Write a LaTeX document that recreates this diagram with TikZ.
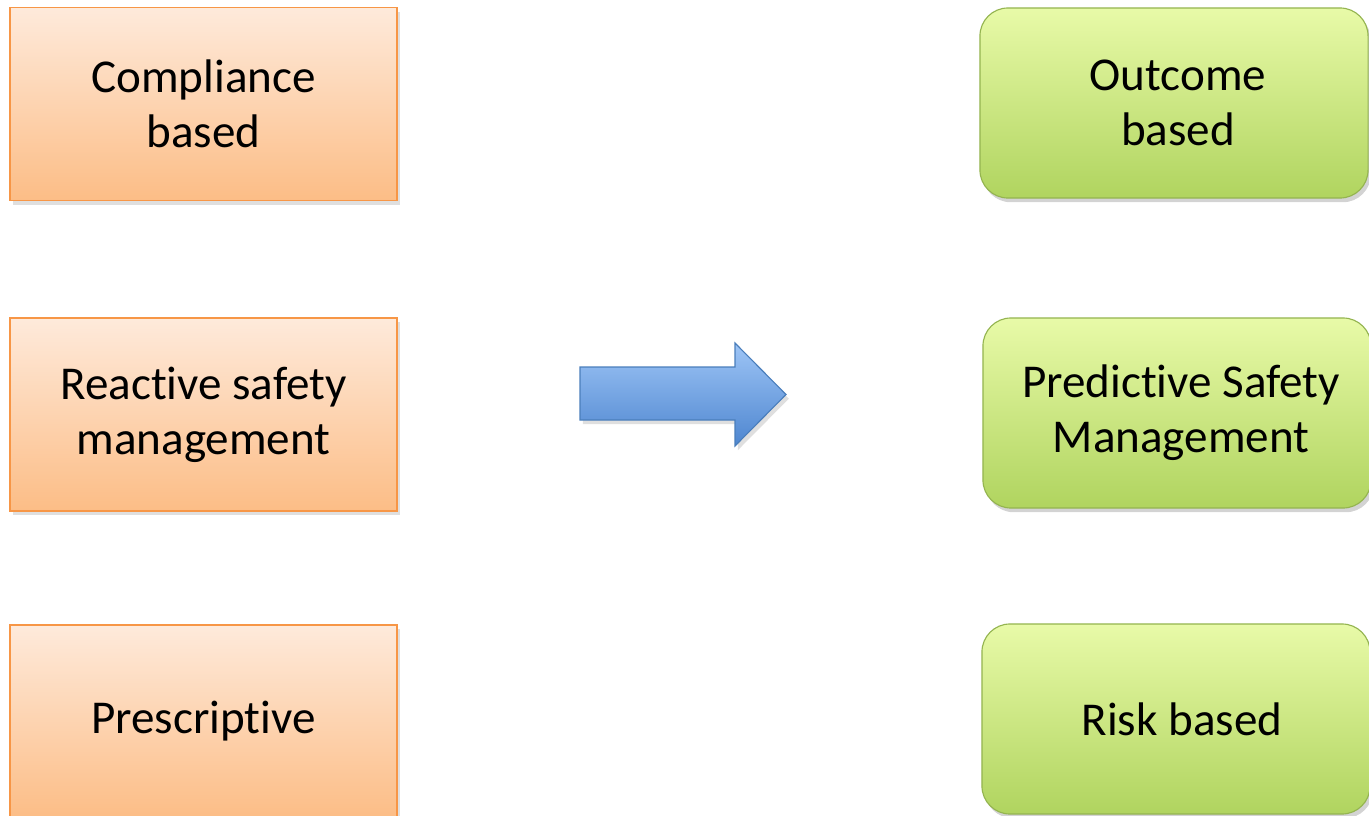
\documentclass[tikz,border=0pt]{standalone}
\usepackage{fontspec}
\setmainfont[RawFeature={-liga;-clig;-calt;-dlig}]{Carlito}
\usepackage{tikz}
\usetikzlibrary{shadows}
\definecolor{peachtop}{HTML}{FEEADB}
\definecolor{peachbot}{HTML}{FCBD86}
\definecolor{peachline}{HTML}{F79646}
\definecolor{limetop}{HTML}{E8FAA8}
\definecolor{limebot}{HTML}{B0D45F}
\definecolor{limeline}{HTML}{94B450}
\definecolor{bluetop}{HTML}{9EC5F6}
\definecolor{bluebot}{HTML}{4E86D0}
\definecolor{blueline}{HTML}{4A7EBB}
\newcommand\tibreak{t\kern0pt i}

\tikzset{
  boxfont/.style={font=\fontsize{33.5}{39}\selectfont, align=center},
  oldbox/.style={boxfont, draw=peachline, line width=1.2pt, top color=peachtop, bottom color=peachbot,
    minimum width=9.675cm, minimum height=4.825cm,
    drop shadow={shadow xshift=2pt, shadow yshift=-3pt, opacity=0.25}},
  newbox/.style={boxfont, draw=limeline, line width=0.8pt, top color=limetop, bottom color=limebot,
    rounded corners=0.7cm, minimum width=9.7cm, minimum height=4.75cm,
    drop shadow={shadow xshift=2pt, shadow yshift=-3pt, opacity=0.35}},
}

\begin{document}
\begin{tikzpicture}[x=0.025cm, y=-0.025cm]
	\useasboundingbox (0,0) rectangle (1369,816);
	% current approach
	\node[oldbox] (compliance) at (203.5,104) {Compliance\\based};
	\node[oldbox] (reactive) at (203.5,414.5) {Reac\tibreak ve safety\\management};
	\node[oldbox] (prescriptive) at (203.5,721.5) {Prescrip\tibreak ve};
	% target approach
	\node[newbox] (outcome) at (1174,103) {\hspace{0.2cm}Outcome\\\hspace{0.2cm}based};
	\node[newbox] (predictive) at (1177,413) {\hspace{0.2cm}Predic\tibreak ve Safety\\\hspace{0.2cm}Management};
	\node[newbox] (risk) at (1176,719) {\hspace{0.3cm}Risk based};
	% shift arrow
	\draw[blueline, line width=0.8pt, top color=bluetop, bottom color=bluebot,
		drop shadow={shadow xshift=2pt, shadow yshift=-3pt, opacity=0.25}]
		(580,367) -- (735,367) -- (735,343) -- (786,394.5) -- (735,446) -- (735,420) -- (580,420) -- cycle;
\end{tikzpicture}
\end{document}
